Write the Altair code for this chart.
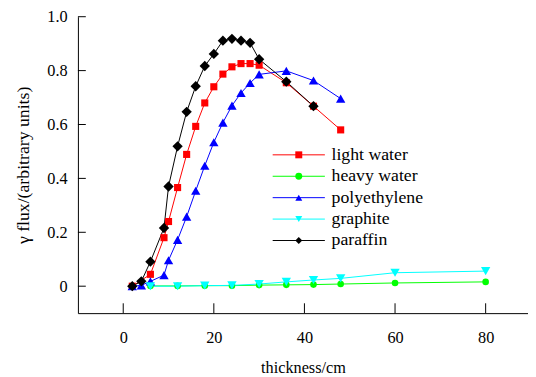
import altair as alt
import pandas as pd

materials = ["light water", "heavy water", "polyethylene", "graphite", "paraffin"]
colors = ["#ff0000", "#00ff00", "#0000ff", "#00ffff", "#000000"]
shapes = ["square", "circle", "triangle-up", "triangle-down", "diamond"]
sizes = [52, 45, 90, 90, 110]

lw_x = [2, 6, 9, 10, 12, 14, 16, 18, 20, 22, 24, 26, 28, 30, 36, 42, 48]
lw_y = [0.0, 0.044, 0.18, 0.24, 0.366, 0.489, 0.593, 0.68, 0.74, 0.787, 0.814, 0.826, 0.826, 0.82, 0.755, 0.668, 0.58]

hw_x = [6, 12, 18, 24, 30, 36, 42, 48, 60, 80]
hw_y = [0.001, 0.001, 0.002, 0.002, 0.004, 0.005, 0.006, 0.008, 0.012, 0.016]

pe_x = [2, 4, 6, 9, 10, 12, 14, 16, 18, 20, 22, 24, 26, 28, 30, 36, 42, 48]
pe_y = [0.0, 0.003, 0.018, 0.041, 0.096, 0.172, 0.258, 0.354, 0.447, 0.534, 0.607, 0.67, 0.717, 0.754, 0.786, 0.799, 0.763, 0.696]

gr_x = [6, 12, 18, 24, 30, 36, 42, 48, 60, 80]
gr_y = [0.0, 0.0, 0.002, 0.003, 0.008, 0.016, 0.023, 0.029, 0.05, 0.056]

pa_x = [2, 4, 6, 9, 10, 12, 14, 16, 18, 20, 22, 24, 26, 28, 30, 36, 42]
pa_y = [0.0, 0.018, 0.091, 0.216, 0.37, 0.519, 0.647, 0.742, 0.817, 0.862, 0.911, 0.918, 0.911, 0.903, 0.842, 0.759, 0.668]

x_ticks = [0, 20, 40, 60, 80]
y_ticks = [0, 0.2, 0.4, 0.6, 0.8, 1.0]
x_min, x_max = -10, 89.35
y_min, y_max = -0.1, 1.0

series = [lw_x, hw_x, pe_x, gr_x, pa_x]
values = [lw_y, hw_y, pe_y, gr_y, pa_y]
rows = []
for mi, (m, xs, ys) in enumerate(zip(materials, series, values)):
    for i, (a, b) in enumerate(zip(xs, ys)):
        rows.append({"kind": "data", "material": m, "mi": mi, "sz": sizes[mi],
                     "thickness": a, "flux": b, "i": i})
# anchors of the inward axis ticks
for t in x_ticks:
    rows.append({"kind": "xtick", "material": "", "mi": -1, "sz": 0,
                 "thickness": t, "flux": y_min, "i": 0})
for t in y_ticks:
    rows.append({"kind": "ytick", "material": "", "mi": -1, "sz": 0,
                 "thickness": x_min, "flux": t, "i": 0})
df = pd.DataFrame(rows)

FONT = "Liberation Serif, serif"

x_axis = alt.Axis(values=x_ticks, title="thickness/cm", ticks=False, labelPadding=17,
                  titlePadding=14, labelFont=FONT, labelFontSize=16.5, titleFont=FONT,
                  titleFontSize=16.5)
y_axis = alt.Axis(values=y_ticks, title="γ flux/(arbitrary units)", ticks=False,
                  labelExpr="datum.value == 0 ? '0' : format(datum.value, '.1f')",
                  labelPadding=11, titlePadding=15, labelFont=FONT, labelFontSize=16.5,
                  titleFont=FONT, titleFontSize=18)
x_scale = alt.Scale(domain=[x_min, x_max], nice=False, zero=False)
y_scale = alt.Scale(domain=[y_min, y_max], nice=False, zero=False)


def X():
    return alt.X("thickness:Q", scale=x_scale, axis=x_axis)


def Y():
    return alt.Y("flux:Q", scale=y_scale, axis=y_axis)


LEG_X, LEG_Y, ROW_PAD, LAB_OFF, LAB_SIZE = 215.25, 131.25, 3.75, 24.25, 18

legend_lines = alt.Legend(
    title=None, orient="none", legendX=LEG_X, legendY=LEG_Y,
    symbolType="M-3.533,0H3.533", symbolSize=225, symbolStrokeWidth=1,
    labelFont=FONT, labelFontSize=LAB_SIZE, labelColor="black",
    labelOffset=LAB_OFF, rowPadding=ROW_PAD,
)
legend_marks = alt.Legend(
    title=None, orient="none", legendX=LEG_X, legendY=LEG_Y,
    symbolSize=50, labelFont=FONT, labelFontSize=LAB_SIZE, labelColor="black",
    labelOpacity=0, labelOffset=LAB_OFF, rowPadding=ROW_PAD,
)

lines = alt.Chart(df).transform_filter(alt.datum.kind == "data").mark_line(strokeWidth=1).encode(
    x=X(), y=Y(),
    color=alt.Color("material:N", scale=alt.Scale(domain=materials, range=colors),
                    legend=legend_lines),
    order="i:Q",
)

msort = alt.EncodingSortField(field="mi", op="min")
points = alt.Chart(df).transform_filter(alt.datum.kind == "data").mark_point(
    filled=True, opacity=1, strokeWidth=0
).encode(
    x=X(), y=Y(),
    fill=alt.Fill("material:N", sort=msort, scale=alt.Scale(range=colors), legend=legend_marks),
    shape=alt.Shape("material:N", sort=msort, scale=alt.Scale(range=shapes), legend=legend_marks),
    size=alt.Size("sz:Q", scale=None, legend=None),
)

# inward ticks drawn as open-path point symbols anchored on the axis lines
xticks = alt.Chart(df).transform_filter(alt.datum.kind == "xtick").mark_point(
    shape="M0,0V-1", size=400, filled=False, color="black", strokeWidth=1, opacity=1
).encode(x=X(), y=Y())
yticks = alt.Chart(df).transform_filter(alt.datum.kind == "ytick").mark_point(
    shape="M0,0H1", size=256, filled=False, color="black", strokeWidth=1, opacity=1
).encode(x=X(), y=Y())

chart = alt.layer(lines, points, xticks, yticks).properties(
    width=457, height=301, autosize="none",
    padding={"left": 71, "top": 6, "right": 0, "bottom": 62},
).configure_view(stroke=None).configure_axis(
    grid=False, domainColor="black", domainWidth=1,
    labelColor="black", titleFontWeight="normal", titleColor="black",
)

chart.save("out.html", embed_options={"renderer": "svg", "actions": False})
